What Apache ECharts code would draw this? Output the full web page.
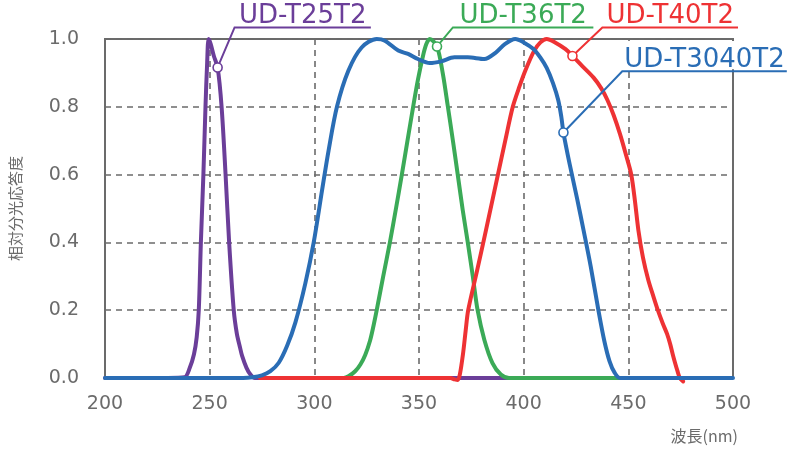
<!DOCTYPE html>
<html>
<head>
<meta charset="utf-8">
<script src="https://cdn.jsdelivr.net/npm/echarts@6/dist/echarts.min.js"></script>
<style>
html,body{margin:0;padding:0;background:#fff;}
#c{width:800px;height:459px;}
</style>
</head>
<body>
<div id="c"></div>
<script>
// ---- data ----
var xTicks = [200, 250, 300, 350, 400, 450, 500];
var yTicks = [0.0, 0.2, 0.4, 0.6, 0.8, 1.0];
var seriesNames = ['UD-T25T2', 'UD-T36T2', 'UD-T40T2', 'UD-T3040T2'];

var ud_t25t2 = [
  [200,0],[230,0],[238,0.002],[240.5,0.03],[242.5,0.07],[243.8,0.12],[244.8,0.2],[245.8,0.4],
  [247,0.6],[248,0.8],[248.8,0.93],[249.5,1.0],[250.5,0.985],[252,0.95],[253.8,0.916],
  [255.7,0.8],[257.6,0.6],[259.3,0.4],[261.5,0.2],[263,0.13],[264.5,0.09],[265.5,0.065],
  [267.6,0.03],[269.5,0.01],[271.5,0],[300,0],[395,0]
];
var ud_t36t2 = [
  [290,0],[314,0],[316.3,0.005],[319.5,0.02],[322,0.04],[324.3,0.068],[326.6,0.11],
  [328.3,0.155],[329.8,0.2],[332.9,0.3],[336.1,0.4],[339,0.5],[341.8,0.6],[344.5,0.7],
  [347.2,0.8],[349.5,0.88],[351.9,0.95],[353.5,0.985],[355.1,1.0],[358.6,0.978],
  [361.4,0.897],[363.8,0.8],[366.2,0.7],[368.5,0.6],[370.9,0.495],[373.3,0.4],
  [375.7,0.3],[378,0.2],[381.2,0.113],[385.1,0.044],[389.1,0.01],[393,0],[447,0]
];
var ud_t40t2 = [
  [274,0],[365,0],[367,-0.004],[368.5,-0.006],[369.5,0.01],[371,0.07],[372.3,0.14],
  [373.5,0.2],[377.5,0.31],[382,0.436],[387.7,0.6],[391.2,0.7],[394.8,0.8],[398,0.86],
  [401,0.91],[405,0.965],[408,0.99],[411,1.0],[415,0.99],[420,0.97],[423.3,0.95],
  [428,0.92],[433.4,0.886],[437,0.855],[440,0.82],[443,0.775],[446,0.72],[448.8,0.66],
  [451.4,0.6],[453.2,0.52],[454.8,0.436],[457,0.355],[459.5,0.29],[462,0.24],[464.1,0.2],
  [466.5,0.16],[468.5,0.13],[470,0.1],[471.2,0.07],[472.3,0.045],[473.5,0.02],[474.6,0],
  [476.2,-0.01]
];
var ud_t3040t2 = [
  [200,0],[266,0],[270.4,0.002],[275,0.008],[279,0.02],[283,0.045],[287,0.095],
  [291,0.165],[295.7,0.279],[299.7,0.4],[303.7,0.554],[306.8,0.671],[310.8,0.8],
  [316.3,0.907],[322.6,0.975],[329.8,1.0],[333.7,0.995],[340.1,0.966],[344.8,0.956],
  [349.5,0.941],[355.1,0.929],[360.6,0.934],[366.9,0.946],[373.3,0.946],[381.2,0.941],
  [386.7,0.96],[391,0.985],[396,1.0],[400,0.99],[404.8,0.97],[408,0.945],[411,0.915],
  [414,0.87],[416.5,0.82],[418,0.77],[419,0.724],[422,0.63],[425.5,0.53],[428.6,0.436],
  [432,0.33],[435.7,0.2],[438.5,0.11],[441,0.05],[443.5,0.015],[446,0],[500,0]
];

// callout anchors in data space: marker point on the curve, elbow, end of underline
var callouts = [
  {name:'UD-T25T2',   color:'#6B3E99', marker:[253.8,0.916], elbow:[261.9,1.034], end:[327.0,1.034]},
  {name:'UD-T36T2',   color:'#3BAA57', marker:[358.6,0.978], elbow:[366.2,1.034], end:[433.3,1.034]},
  {name:'UD-T40T2',   color:'#EE3234', marker:[423.3,0.95],  elbow:[437.6,1.034], end:[502.4,1.034]},
  {name:'UD-T3040T2', color:'#2A6DB5', marker:[419.0,0.724], elbow:[447.1,0.905], end:[525.7,0.905]}
];

var colors = {purple:'#6B3E99', green:'#3BAA57', red:'#EE3234', blue:'#2A6DB5'};
var gray = '#6b6b6b';
var tickFont = 'DejaVu Sans';

var chart = echarts.init(document.getElementById('c'), null, {renderer:'canvas'});

function lineSeries(name, data, color, z) {
  return {
    name: name, type: 'line', data: data, showSymbol: false, symbol: 'none',
    smooth: 0.3, clip: false, z: z,
    lineStyle: {color: color, width: 4, cap: 'round', join: 'round'},
    emphasis: {disabled: true}
  };
}

var option = {
  animation: false,
  backgroundColor: '#fff',
  grid: {left: 103, right: 67, top: 39, bottom: 81, show: true, borderColor: gray, borderWidth: 2, backgroundColor: 'transparent'},
  xAxis: {
    type: 'value', min: 200, max: 500, interval: 50,
    axisLine: {show: false}, axisTick: {show: false},
    axisLabel: {color: gray, fontFamily: tickFont, fontSize: 19, margin: 17,
      formatter: function (v) { return xTicks.indexOf(v) >= 0 ? String(v) : ''; }},
    splitLine: {show: true, lineStyle: {color: gray, width: 1.6, type: [6, 5]}}
  },
  yAxis: {
    type: 'value', min: 0, max: 1, interval: 0.2,
    name: '相対分光応答度', nameLocation: 'middle', nameRotate: 90, nameGap: 82,
    nameTextStyle: {color: gray, fontSize: 15, fontFamily: 'Noto Sans CJK JP'},
    axisLine: {show: true, lineStyle: {color: gray, width: 2}}, axisTick: {show: false},
    axisLabel: {color: gray, fontFamily: tickFont, fontSize: 19, margin: 26,
      formatter: function (v) { return v.toFixed(1); }},
    splitLine: {show: true, lineStyle: {color: gray, width: 1.6, type: [6, 5]}}
  },
  series: [
    lineSeries(seriesNames[0], ud_t25t2, colors.purple, 2),
    lineSeries(seriesNames[1], ud_t36t2, colors.green, 3),
    lineSeries(seriesNames[2], ud_t40t2, colors.red, 4),
    lineSeries(seriesNames[3], ud_t3040t2, colors.blue, 5)
  ]
};
chart.setOption(option);

var g = [];
callouts.forEach(function (c) {
  var m = chart.convertToPixel({gridIndex: 0}, c.marker);
  var e = chart.convertToPixel({gridIndex: 0}, c.elbow);
  var n = chart.convertToPixel({gridIndex: 0}, c.end);
  if (c.name === 'UD-T3040T2') {
    g.push({type: 'rect', shape: {x: e[0] - 2, y: 41, width: n[0] - e[0] + 6, height: e[1] - 43},
      style: {fill: '#fff'}, z: 90, silent: true});
  }
  g.push({type: 'polyline', shape: {points: [m, e, n]},
    style: {stroke: c.color, lineWidth: 2, fill: null}, z: 95, silent: true});
  g.push({type: 'circle', shape: {cx: m[0], cy: m[1], r: 4.5},
    style: {fill: '#fff', stroke: c.color, lineWidth: 1.6}, z: 96, silent: true});
  g.push({type: 'text', x: (e[0] + n[0]) / 2, y: e[1] + 2,
    style: {text: c.name, fill: c.color, font: '26px "DejaVu Sans"', textAlign: 'center', textVerticalAlign: 'bottom'},
    z: 97, silent: true});
});
g.push({type: 'text', right: 62, top: 428,
  style: {text: '波長(nm)', fill: gray, font: '16px "Noto Sans CJK JP"'}, z: 97, silent: true});
chart.setOption({graphic: g});
</script>
</body>
</html>
